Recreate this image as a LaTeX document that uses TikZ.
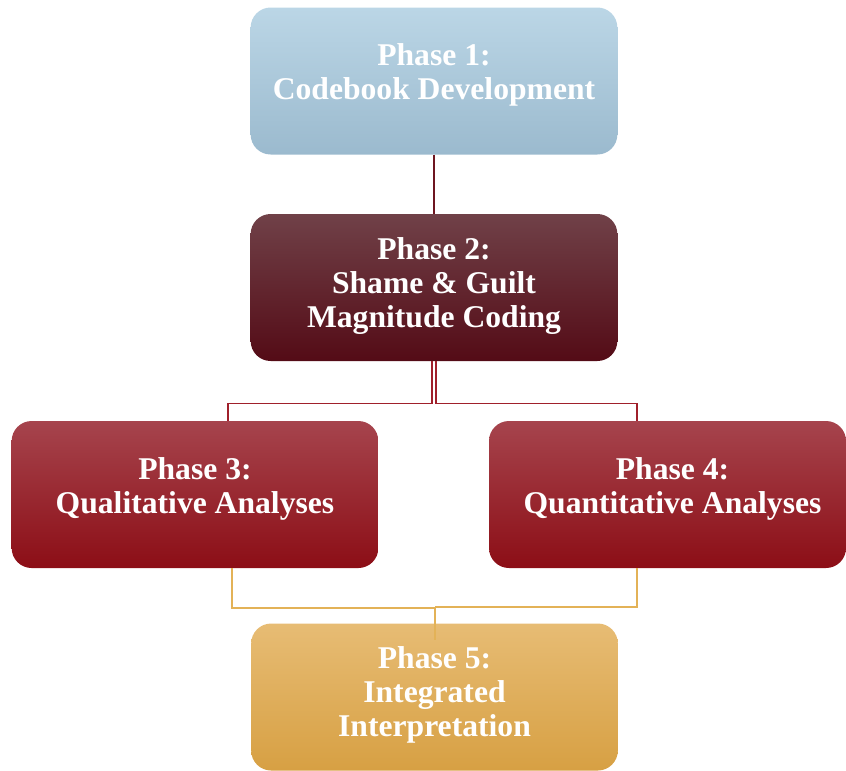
\documentclass[tikz,border=0pt]{standalone}
\usepackage{fontspec}
\setmainfont{Liberation Serif}
\usepackage{tikz}
\usetikzlibrary{positioning,calc}
\tikzset{>=latex}
\definecolor{blueT}{HTML}{BBD6E6}
\definecolor{blueB}{HTML}{9BBACE}
\definecolor{maroonT}{HTML}{704148}
\definecolor{maroonM}{HTML}{5E1520}
\definecolor{maroonB}{HTML}{540B16}
\definecolor{redT}{HTML}{A6444D}
\definecolor{redM}{HTML}{96151D}
\definecolor{redB}{HTML}{8C0E16}
\definecolor{goldT}{HTML}{E7BC74}
\definecolor{goldM}{HTML}{E5B04F}
\definecolor{goldB}{HTML}{D7A043}
\definecolor{linkred}{HTML}{A0202B}
\definecolor{linkdark}{HTML}{6E1520}
\definecolor{linkgold}{HTML}{E3B257}
\tikzset{phase/.style={rounded corners=0.6cm,minimum width=11cm,minimum height=4.41cm,
    align=center,text=white,font=\fontsize{27}{29}\selectfont\bfseries,text depth=16pt},
  tall/.style={text depth=9pt},
  p1col/.style={top color=blueT,bottom color=blueB},
  p2col/.style={top color=maroonT,middle color=maroonM,bottom color=maroonB},
  p34col/.style={top color=redT,middle color=redM,bottom color=redB},
  p5col/.style={top color=goldT,middle color=goldM,bottom color=goldB}}

\begin{document}
\begin{tikzpicture}[x=0.03cm,y=-0.03cm]
\clip (0,0) rectangle (846,770);
\node[phase,p1col] (p1) at (434,81) {Phase 1:\\Codebook Development};
\node[phase,tall,p2col] (p2) at (434,287.5) {Phase 2:\\Shame \& Guilt\\Magnitude Coding};
\node[phase,p34col] (p3) at (195,494.5) {Phase 3:\\Qualitative Analyses};
\node[phase,p34col,minimum width=10.71cm] (p4) at (667.5,494.5) {\hspace*{0.3cm}Phase 4:\\\hspace*{0.3cm}Quantitative Analyses};
\node[phase,tall,p5col] (p5) at (434.5,697) {Phase 5:\\Integrated\\Interpretation};
\coordinate (in3) at (228,421);
\coordinate (in4) at (637,421);
\coordinate (out3) at (232,568);
\coordinate (out4) at (637,568);
\coordinate (in5) at (435,640);
\draw[linkdark,line width=1pt] (p1.south) -- (p2.north);
\draw[linkred,line width=1.1pt] ($(p2.south)+(-2,0)$) -- ++(0,42) -| (in3);
\draw[linkred,line width=1.1pt] ($(p2.south)+(2,0)$) -- ++(0,42) -| (in4);
\draw[linkgold,line width=1.1pt] (out3) |- (in5 |- 0,608) -- (in5);
\draw[linkgold,line width=1.1pt] (out4) |- (in5 |- 0,607);
\end{tikzpicture}
\end{document}
